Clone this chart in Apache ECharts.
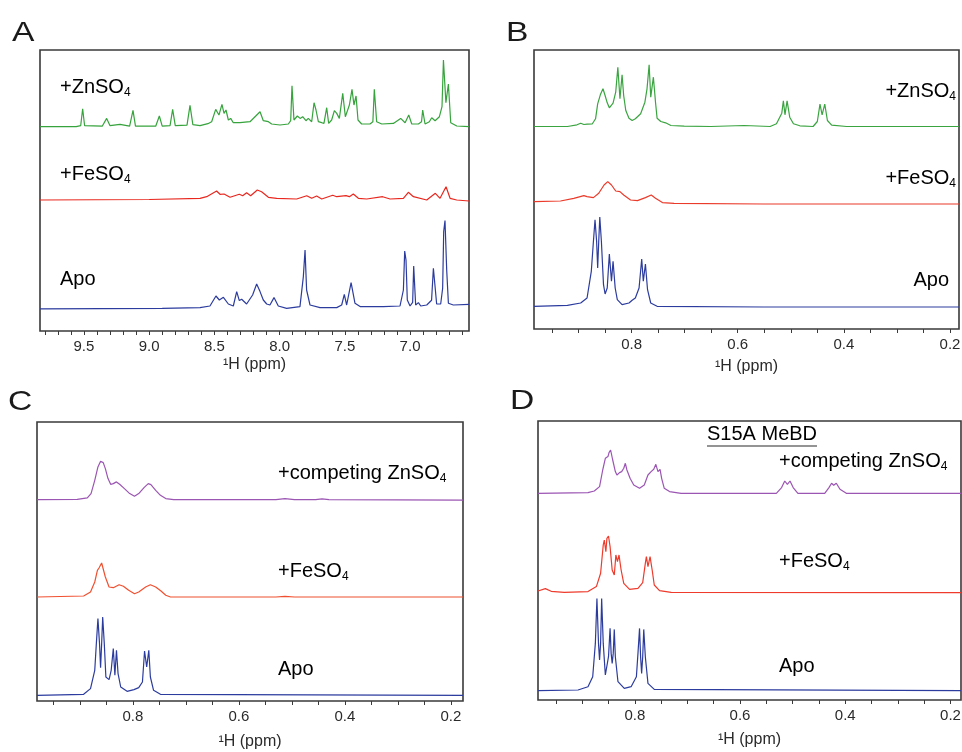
<!DOCTYPE html>
<html><head><meta charset="utf-8">
<script src="https://cdn.jsdelivr.net/npm/echarts@6/dist/echarts.min.js"></script>
<style>html,body{margin:0;padding:0;background:#fff}#c{width:962px;height:752px}</style>
</head><body><div id="c"></div>
<script>
// ---------- DATA: [ppm, intensity above own baseline] (arbitrary units) ----------
// Panel A (aromatic / amide region)
const A_ZN = [[9.837,0],[9.56,0],[9.525,1],[9.510,18],[9.495,1],[9.36,0.5],[9.326,8.3],[9.30,1],[9.224,2.3],[9.15,0.5],[9.124,16.3],[9.105,0.5],[8.95,0.5],[8.922,10.7],[8.90,0.5],[8.84,1],[8.820,17.3],[8.80,1],[8.71,1.5],[8.687,21.3],[8.665,2],[8.61,1],[8.55,3],[8.521,5],[8.490,17.3],[8.465,11.7],[8.442,22.3],[8.426,13.3],[8.411,16.7],[8.393,6.7],[8.375,8.3],[8.355,4],[8.304,4],[8.227,5],[8.150,15],[8.125,6],[8.086,5],[8.061,2.7],[7.997,1.7],[7.933,2.7],[7.915,6],[7.905,41],[7.890,6.7],[7.864,10.7],[7.843,8.3],[7.823,10],[7.798,6],[7.780,8.3],[7.754,5],[7.736,24],[7.721,16.7],[7.703,5],[7.677,4],[7.660,3.3],[7.639,19],[7.624,3.3],[7.601,6.7],[7.580,16],[7.562,13.3],[7.542,8.3],[7.516,33.3],[7.496,10],[7.465,21.7],[7.445,37.3],[7.430,21.7],[7.414,30.7],[7.399,6.7],[7.371,2.7],[7.307,2.7],[7.285,5],[7.274,37.3],[7.256,5],[7.217,2.7],[7.128,3.3],[7.072,8.3],[7.038,4],[7.010,11.7],[6.987,2.7],[6.936,2.7],[6.912,5],[6.903,16.7],[6.885,2.7],[6.852,5],[6.834,9],[6.808,6],[6.775,10],[6.755,20],[6.744,66.7],[6.725,24],[6.706,42.7],[6.688,4],[6.642,0.7],[6.548,0]];
const A_FE = [[9.837,-1],[9.0,-0.5],[8.61,0.7],[8.559,2.3],[8.483,8],[8.457,4.7],[8.426,5],[8.380,1.7],[8.309,4.7],[8.283,3.3],[8.253,6.3],[8.222,3.3],[8.171,9],[8.138,7.3],[8.086,1.7],[8.022,0.7],[7.869,0],[7.792,3.3],[7.754,0.7],[7.716,3],[7.677,0],[7.593,3.7],[7.562,2.3],[7.491,3.3],[7.465,2.3],[7.435,5],[7.396,0.7],[7.332,0],[7.210,2.3],[7.153,0],[7.051,0.7],[7.013,6.7],[6.974,2.3],[6.872,-1],[6.806,5.7],[6.770,0.7],[6.724,12.3],[6.693,0.7],[6.642,-1],[6.548,-2]];
const A_APO = [[9.837,-0.5],[8.9,0],[8.61,0.7],[8.534,2.3],[8.488,12.3],[8.462,8.3],[8.431,11],[8.393,4.3],[8.355,2.3],[8.329,16.7],[8.309,7.7],[8.291,9],[8.253,4.3],[8.207,13.3],[8.176,24.3],[8.150,16.7],[8.125,8.3],[8.099,4.3],[8.074,3.3],[8.043,10.7],[8.010,2.3],[7.946,0],[7.844,1.7],[7.818,31.7],[7.805,58.3],[7.793,18.3],[7.767,3.3],[7.690,0.7],[7.562,0.7],[7.524,3.3],[7.504,14],[7.486,3.3],[7.452,25.7],[7.422,5],[7.383,1.7],[7.205,1.7],[7.077,2.3],[7.051,18.3],[7.041,57.3],[7.031,48.3],[7.021,8.3],[7.000,2.3],[6.980,6],[6.972,42.3],[6.957,3.3],[6.936,5.7],[6.918,2.3],[6.872,3.3],[6.835,8],[6.821,40],[6.796,4.3],[6.765,4.3],[6.750,20],[6.742,76.7],[6.732,87.7],[6.719,38.3],[6.706,5],[6.668,3.3],[6.548,4]];

// Panel B (methyl region)
const B_ZN = [[0.984,0],[0.921,0],[0.903,1.7],[0.896,3.3],[0.890,2],[0.884,2.3],[0.874,2.7],[0.868,7.7],[0.864,22.7],[0.859,31.7],[0.854,37.7],[0.850,31],[0.846,23.7],[0.842,18.7],[0.835,23.3],[0.830,34.3],[0.826,59.3],[0.822,27.7],[0.818,51.7],[0.815,31],[0.811,16],[0.805,8.3],[0.799,6],[0.793,7.7],[0.783,12.7],[0.775,24.3],[0.771,37.7],[0.767,61.7],[0.764,29.3],[0.759,49.3],[0.755,24.3],[0.752,8.3],[0.745,5],[0.736,3.7],[0.726,1],[0.701,0.3],[0.651,0],[0.588,1],[0.539,0],[0.527,2.7],[0.517,13.3],[0.514,25.7],[0.511,11.7],[0.507,25.7],[0.502,9.3],[0.495,2.7],[0.483,0.7],[0.458,0],[0.450,5],[0.445,22.3],[0.441,11.7],[0.436,22.3],[0.431,6],[0.423,1.3],[0.395,0],[0.183,0]];
const B_FE = [[0.984,1.7],[0.934,2.3],[0.909,5],[0.890,7.7],[0.884,6.7],[0.872,5.7],[0.862,10],[0.852,18.3],[0.845,21.7],[0.838,18.3],[0.830,12.3],[0.822,11.7],[0.815,8.3],[0.802,3.3],[0.789,2.7],[0.774,5.7],[0.763,8.3],[0.755,5],[0.742,0.7],[0.720,0],[0.551,-0.7],[0.183,-0.7]];
const B_APO = [[0.984,0.7],[0.921,1.7],[0.896,4],[0.884,9],[0.876,35.7],[0.872,65.7],[0.869,87.3],[0.866,65.7],[0.864,39],[0.862,65.7],[0.860,90],[0.857,65.7],[0.853,22.3],[0.850,13],[0.846,19],[0.842,53],[0.838,25.7],[0.835,45.7],[0.831,19],[0.827,7.3],[0.818,2.3],[0.805,4],[0.799,6.7],[0.793,9],[0.786,19],[0.781,48],[0.778,25.7],[0.774,43],[0.770,17.3],[0.764,4],[0.752,0.7],[0.551,0],[0.183,0]];

// Panel C
const C_ZN = [[0.981,0],[0.905,0.3],[0.886,1.7],[0.879,6],[0.872,19.3],[0.866,32.7],[0.861,38.3],[0.856,37],[0.852,31],[0.847,21],[0.842,15.3],[0.837,16],[0.831,17.7],[0.825,15.3],[0.816,11],[0.806,6],[0.797,3.3],[0.789,6],[0.779,12],[0.771,16],[0.766,15],[0.757,9.3],[0.748,4.3],[0.738,1],[0.723,0],[0.530,0],[0.513,1],[0.495,0],[0.455,0],[0.443,0.7],[0.430,0],[0.177,-0.5]];
const C_FE = [[0.981,0],[0.893,1],[0.880,5],[0.872,15],[0.867,26.7],[0.864,29],[0.862,27.3],[0.859,34],[0.856,33.3],[0.852,20],[0.845,10],[0.837,9.3],[0.826,12.3],[0.818,10.7],[0.808,6.7],[0.797,3.3],[0.789,5],[0.776,10],[0.767,12.3],[0.757,10],[0.747,6],[0.738,1.7],[0.729,0],[0.530,0],[0.513,0.7],[0.495,0],[0.177,0]];
const C_APO = [[0.981,0],[0.893,1],[0.880,6.7],[0.872,25],[0.869,51.7],[0.866,76.7],[0.863,51.7],[0.861,27.7],[0.859,51.7],[0.857,78.3],[0.854,51.7],[0.851,18.3],[0.845,15.7],[0.841,25],[0.837,46.7],[0.834,20],[0.831,45],[0.828,21.7],[0.823,8.3],[0.811,4],[0.798,5.7],[0.789,7.7],[0.782,13.3],[0.778,44.3],[0.774,28.3],[0.770,45],[0.767,18.3],[0.761,5],[0.748,1],[0.177,0]];

// Panel D (S15A MeBD)
const D_ZN = [[0.984,0],[0.889,0.7],[0.877,2.3],[0.867,6.7],[0.861,23.3],[0.856,35],[0.851,36.7],[0.849,40.7],[0.846,43.3],[0.842,33.3],[0.837,21.7],[0.834,18.3],[0.829,20.7],[0.825,21.7],[0.821,25],[0.818,30],[0.815,23.3],[0.812,25],[0.809,15],[0.802,8.3],[0.791,5],[0.782,8.3],[0.775,18.3],[0.769,21.7],[0.764,24],[0.760,29],[0.756,21.7],[0.752,24],[0.749,15],[0.744,5],[0.734,1.7],[0.712,0],[0.531,0],[0.521,5.7],[0.515,12.3],[0.510,9],[0.505,12.3],[0.499,5.7],[0.490,0],[0.439,0],[0.431,5.7],[0.426,10],[0.422,8],[0.417,10],[0.410,4],[0.398,0],[0.180,0]];
const D_FE = [[0.984,1.3],[0.970,3.7],[0.959,1],[0.934,0],[0.889,0.7],[0.873,5.7],[0.865,19],[0.860,47.3],[0.858,52.3],[0.855,40.7],[0.853,54],[0.850,56.3],[0.847,45.7],[0.843,22.3],[0.839,17.3],[0.836,37.3],[0.833,30.7],[0.830,37.3],[0.826,22.3],[0.821,9],[0.810,3],[0.794,4],[0.785,9.7],[0.780,29],[0.778,35.7],[0.775,25.7],[0.771,35.7],[0.767,22.3],[0.763,7.3],[0.753,1.7],[0.731,0],[0.180,-0.3]];
const D_APO = [[0.984,0],[0.908,0.7],[0.889,4],[0.880,14],[0.875,47.3],[0.872,92.3],[0.869,47.3],[0.867,30.7],[0.865,47.3],[0.863,92.3],[0.860,47.3],[0.856,15.7],[0.853,14],[0.850,34],[0.847,62.3],[0.845,37.3],[0.843,27.3],[0.841,37.3],[0.839,61.3],[0.837,34],[0.832,9],[0.820,2.3],[0.807,4],[0.797,14],[0.794,37.3],[0.791,62.3],[0.789,34],[0.787,17.3],[0.785,34],[0.783,61.3],[0.780,34],[0.775,7.3],[0.763,1.3],[0.180,0]];

// Tick values and labels
const A_TICKS = [6.6,6.7,6.8,6.9,7.0,7.1,7.2,7.3,7.4,7.5,7.6,7.7,7.8,7.9,8.0,8.1,8.2,8.3,8.4,8.5,8.6,8.7,8.8,8.9,9.0,9.1,9.2,9.3,9.4,9.5,9.6,9.7,9.8];
const A_LABELS = [7.0,7.5,8.0,8.5,9.0,9.5];
const M_TICKS = [0.2,0.25,0.3,0.35,0.4,0.45,0.5,0.55,0.6,0.65,0.7,0.75,0.8,0.85,0.9,0.95];
const M_LABELS = [0.2,0.4,0.6,0.8];
const AXIS_NAME = '\u00b9H (ppm)';

// ---------- LAYOUT / STYLE ----------
const FONT = '"Liberation Sans", Arial, Helvetica, sans-serif';
const TXT = '#2a2a2a';
const panels = [
  {g:{left:40, top:50, width:429, height:281}, min:6.548, max:9.837, ticks:A_TICKS, labels:A_LABELS, gap:26,
   series:[{d:A_ZN,off:204.3,c:'#36a33c'},{d:A_FE,off:132,c:'#e8281f'},{d:A_APO,off:22.7,c:'#2c3c9e'}]},
  {g:{left:534, top:50, width:425, height:279}, min:0.183, max:0.984, ticks:M_TICKS, labels:M_LABELS, gap:30,
   series:[{d:B_ZN,off:202.5,c:'#3aa440'},{d:B_FE,off:125.7,c:'#ea3a2a'},{d:B_APO,off:22,c:'#2c3c9e'}]},
  {g:{left:37, top:422, width:426, height:279}, min:0.177, max:0.981, ticks:M_TICKS, labels:M_LABELS, gap:33,
   series:[{d:C_ZN,off:201.4,c:'#9b55b3'},{d:C_FE,off:104,c:'#f0502f'},{d:C_APO,off:5.7,c:'#2c3c9e'}]},
  {g:{left:538, top:421, width:423, height:279}, min:0.180, max:0.984, ticks:M_TICKS, labels:M_LABELS, gap:32,
   series:[{d:D_ZN,off:206.7,c:'#9b55b3'},{d:D_FE,off:107.7,c:'#ee3b2c'},{d:D_APO,off:9.3,c:'#2c3c9e'}]}
];

const grid=[], xAxis=[], yAxis=[], series=[];
panels.forEach((p,i)=>{
  grid.push(Object.assign({show:true, borderColor:'#3a3a3a', borderWidth:1.6, backgroundColor:'transparent',
    containLabel:false, outerBoundsMode:'none'}, p.g));
  xAxis.push({
    gridIndex:i, type:'value', inverse:true, min:p.min, max:p.max,
    name:AXIS_NAME, nameLocation:'middle', nameGap:p.gap,
    nameTextStyle:{fontFamily:FONT, fontSize:16, color:TXT},
    axisLine:{show:false},
    axisTick:{show:true, inside:false, length:4, customValues:p.ticks, lineStyle:{color:'#3a3a3a', width:1}},
    axisLabel:{show:true, margin:8, customValues:p.labels, fontFamily:FONT, fontSize:15, color:TXT,
               hideOverlap:false, formatter:v=>Number(v).toFixed(1)},
    splitLine:{show:false}
  });
  yAxis.push({gridIndex:i, type:'value', min:0, max:p.g.height, show:false});
  p.series.forEach(s=>{
    series.push({type:'line', xAxisIndex:i, yAxisIndex:i, showSymbol:false, silent:true, animation:false,
      lineStyle:{color:s.c, width:1.2}, data:s.d.map(pt=>[pt[0], pt[1]+s.off])});
  });
});

const rich = {a:{fontFamily:FONT, fontSize:20, color:TXT, lineHeight:24},
              s:{fontFamily:FONT, fontSize:12, color:TXT, lineHeight:12, verticalAlign:'bottom'}};
function lab(x,y,text,align){
  return {type:'text', x:x, y:y, silent:true,
    style:{text:text, rich:rich, align:align||'left', verticalAlign:'middle'}};
}
function letter(x,y,t){
  return {type:'text', x:x, y:y, scaleX:1.2, silent:true,
    style:{text:t, fontFamily:FONT, fontSize:28, fill:'#1a1a1a', align:'left', verticalAlign:'middle'}};
}
const graphic = [
  letter(12,33,'A'), letter(506,33,'B'), letter(8,402,'C'), letter(510,401,'D'),
  lab(60,87,'{a|+ZnSO}{s|4}'), lab(60,174,'{a|+FeSO}{s|4}'), lab(60,279,'{a|Apo}'),
  lab(956,91,'{a|+ZnSO}{s|4}','right'), lab(956,178,'{a|+FeSO}{s|4}','right'), lab(949,280,'{a|Apo}','right'),
  lab(278,473,'{a|+competing ZnSO}{s|4}'), lab(278,571,'{a|+FeSO}{s|4}'), lab(278,669,'{a|Apo}'),
  lab(707,434,'{a|S15A MeBD}'),
  {type:'line', silent:true, shape:{x1:707,y1:446,x2:817,y2:446}, style:{stroke:TXT, lineWidth:1.2}},
  lab(779,461,'{a|+competing ZnSO}{s|4}'), lab(779,561,'{a|+FeSO}{s|4}'), lab(779,666,'{a|Apo}')
];

const chart = echarts.init(document.getElementById('c'), null, {renderer:'canvas'});
chart.setOption({backgroundColor:'#ffffff', animation:false, grid, xAxis, yAxis, series, graphic});
</script></body></html>
